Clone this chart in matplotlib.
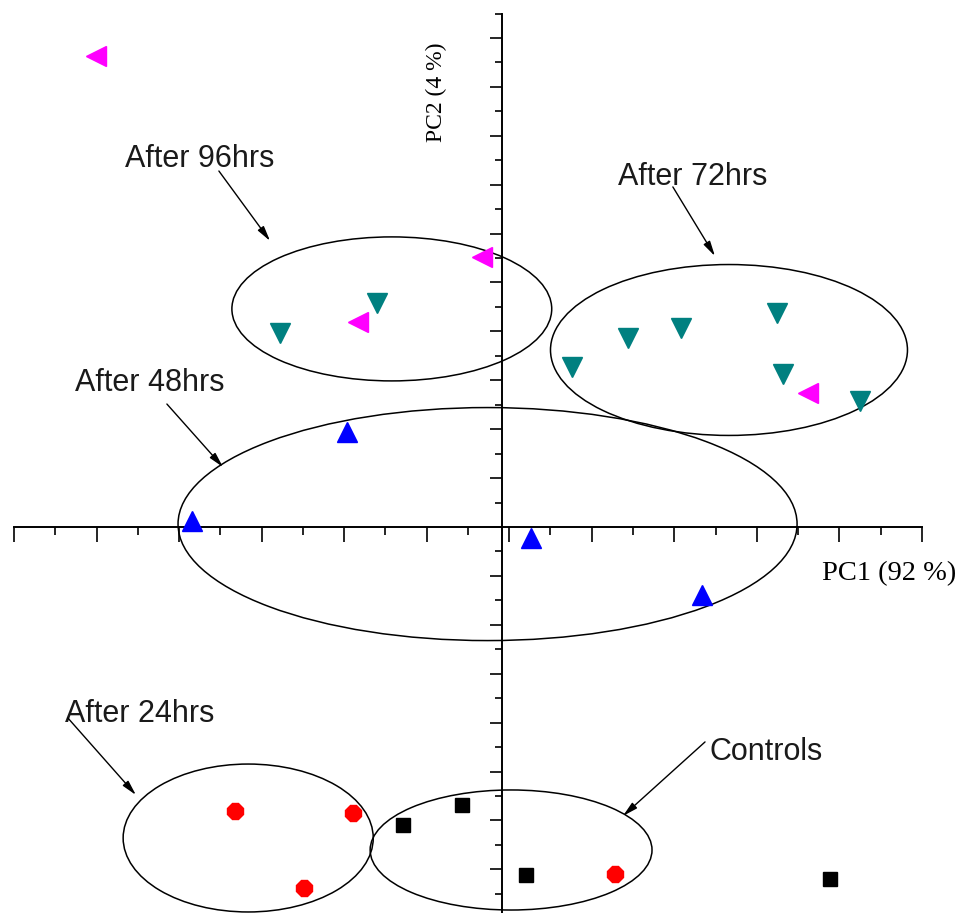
import matplotlib
matplotlib.use("Agg")
import matplotlib.pyplot as plt
from matplotlib.patches import Ellipse
import numpy as np

# PCA scores (PC1, PC2 in tick units)
h96_x = [-9.84, -0.48, -3.49, 7.41]
h96_y = [19.26, 11.04, 8.38, 5.48]

h72_x = [-5.38, -3.03, 1.70, 3.05, 4.34, 6.66, 6.81, 8.67]
h72_y = [7.93, 9.16, 6.54, 7.73, 8.14, 8.75, 6.26, 5.15]

h48_x = [-3.76, -7.51, 0.70, 4.85]
h48_y = [3.89, 0.25, -0.45, -2.78]

h24_x = [-6.47, -3.61, -4.80, 2.74]
h24_y = [-11.62, -11.70, -14.76, -14.19]

ctrl_x = [-2.40, -0.97, 0.58, 7.95]
ctrl_y = [-12.19, -11.37, -14.23, -14.40]

# group ellipses: label, centre x, centre y, width, height
groups = ["After 96hrs", "After 72hrs", "After 48hrs", "After 24hrs", "Controls"]
ell_cx = [-2.67, 5.50, -0.35, -6.15, 0.22]
ell_cy = [8.92, 7.24, 0.12, -12.72, -13.21]
ell_w = [7.75, 8.65, 15.0, 6.06, 6.83]
ell_h = [5.89, 6.99, 9.53, 6.05, 4.91]

fig = plt.figure(figsize=(9.78, 9.13), dpi=100)
ax = fig.add_axes([0, 0, 1, 1])
ax.set_xlim(-12.164, 11.534)
ax.set_ylim(-15.787, 21.554)

# axes crossing at origin
for s in ["top", "right"]:
    ax.spines[s].set_visible(False)
ax.spines["left"].set_position(("data", 0))
ax.spines["bottom"].set_position(("data", 0))
ax.spines["left"].set_bounds(-15.787, 21.0)
ax.spines["bottom"].set_bounds(-11.825, 10.175)
ax.spines["left"].set_linewidth(1.4)
ax.spines["bottom"].set_linewidth(1.4)

xt = np.arange(23) - 11.825
ax.set_xticks(xt[::2])
ax.set_xticks(xt[1::2], minor=True)
ax.set_yticks(np.arange(-14, 21, 2))
ax.set_yticks(np.arange(-15, 22, 2), minor=True)
ax.tick_params(axis="x", which="major", direction="out", length=10.5, width=1.2, labelbottom=False)
ax.tick_params(axis="x", which="minor", direction="out", length=5.5, width=1.2)
ax.tick_params(axis="y", which="major", direction="out", length=8.5, width=1.2, labelleft=False)
ax.tick_params(axis="y", which="minor", direction="out", length=5, width=1.2)

for cx, cy, w, h in zip(ell_cx, ell_cy, ell_w, ell_h):
    ax.add_patch(Ellipse((cx, cy), w, h, fill=False, ec="black", lw=1.1, zorder=2))

ax.plot(h96_x, h96_y, ls="none", marker="<", ms=14, color="#ff00ff", zorder=4, clip_on=False)
ax.plot(h72_x, h72_y, ls="none", marker="v", ms=14, color="#008080", zorder=4, clip_on=False)
ax.plot(h48_x, h48_y, ls="none", marker="^", ms=14, color="#0000ff", zorder=4, clip_on=False)
ax.plot(h24_x, h24_y, ls="none", marker="8", ms=12, color="#ff0000", zorder=4, clip_on=False)
ax.plot(ctrl_x, ctrl_y, ls="none", marker="s", ms=10, color="black", zorder=4, clip_on=False)

# group labels with arrows
lab_pos = [(-9.13, 14.72), (2.81, 13.99), (-10.35, 5.56), (-10.59, -7.98), (5.02, -9.53)]
arr_tail = [(-6.86, 14.56), (4.14, 13.91), (-8.12, 5.03), (-10.52, -7.81), (4.92, -8.79)]
arr_tip = [(-5.62, 11.70), (5.16, 11.08), (-6.76, 2.45), (-8.87, -10.96), (2.93, -11.82)]
for g, p, t0, t1 in zip(groups, lab_pos, arr_tail, arr_tip):
    ax.text(p[0], p[1], g, fontsize=22, family="Liberation Sans", color="#1a1a1a",
            ha="left", va="baseline")
    ax.annotate("", xy=t1, xytext=t0,
                arrowprops=dict(arrowstyle="-|>,head_length=0.9,head_width=0.22",
                                color="black", lw=1.0, shrinkA=0, shrinkB=0))

ax.text(9.38, -1.92, "PC1 (92 %)", fontsize=20.5, family="Liberation Serif",
        ha="center", va="center")
ax.text(-1.58, 17.79, "PC2 (4 %)", fontsize=17, family="Liberation Serif",
        rotation=90, ha="center", va="center")

fig.savefig("out.png", dpi=100)
